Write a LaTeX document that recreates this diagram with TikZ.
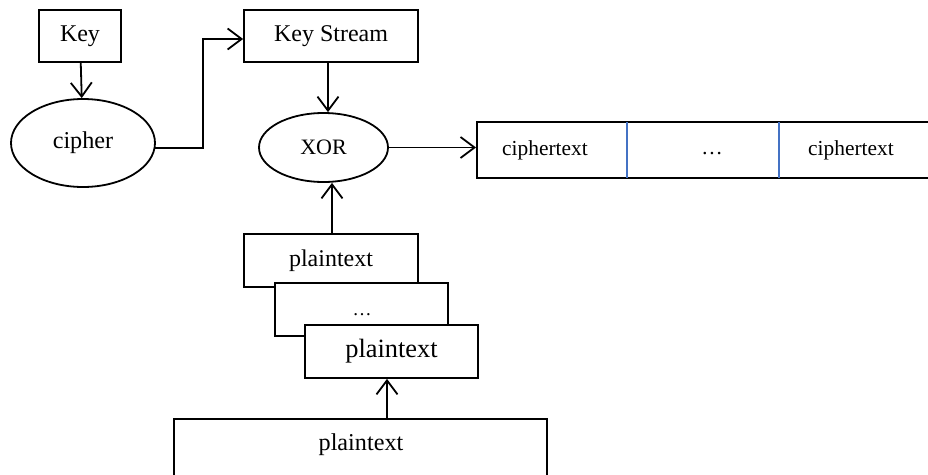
\documentclass[tikz,border=0pt]{standalone}
\usepackage{fontspec}
\setmainfont{Liberation Serif}
\usetikzlibrary{shapes.geometric,arrows.meta,calc}
\definecolor{divblue}{RGB}{68,114,196}
\tikzset{
  box/.style={draw, line width=1.8pt, fill=white, inner sep=0pt, rectangle},
  oval/.style={draw, line width=1.8pt, fill=white, inner sep=0pt, ellipse},
  arr/.style={line width=1.8pt, -{Straight Barb[length=14pt,width=21pt,line width=1.8pt]}},
  lbl/.style={inner sep=0pt}
}
\begin{document}
\begin{tikzpicture}[x=1pt,y=-1pt]
\useasboundingbox (0,0) rectangle (928,474);
\clip (0,0) rectangle (928,474);
% top row
\node[box, minimum width=82, minimum height=52, font=\fontsize{24}{26}\selectfont] (key) at (80,36) {Key};
\node[oval, minimum width=144, minimum height=88, font=\fontsize{24.2}{26}\selectfont] (cipher) at (83,143) {cipher};
\node[box, minimum width=174, minimum height=52, font=\fontsize{24}{26}\selectfont] (ks) at (331,36) {Key Stream};
\node[oval, minimum width=129, minimum height=69, font=\fontsize{22}{24}\selectfont] (xor) at (323.5,147.5) {XOR};
% ciphertext row
\node[box, minimum width=470, minimum height=56, anchor=west] (ct) at (476,150) {};
\node[lbl, font=\fontsize{21.4}{24}\selectfont] (ct1) at (545,150) {ciphertext};
\node[lbl, font=\fontsize{21.4}{24}\selectfont] (ctd) at (712,154) {\ldots};
\node[lbl, font=\fontsize{21.4}{24}\selectfont] (ct3) at (851,150) {ciphertext};
\draw[divblue, line width=1.4pt] (627,122) -- (627,178);
\draw[divblue, line width=1.4pt] (779,122) -- (779,178);
% plaintext stack
\node[box, minimum width=174, minimum height=53, font=\fontsize{24}{26}\selectfont] (p1) at (331,260.5) {plaintext};
\node[box, minimum width=173, minimum height=53] (p2) at (361.5,309.5) {};
\node[lbl, font=\fontsize{19}{20}\selectfont] (p2t) at (362,315) {\ldots};
\node[box, minimum width=173, minimum height=53, font=\fontsize{26.4}{28}\selectfont] (p3) at (391.5,351.5) {plaintext};
% bottom plaintext
\node[box, minimum width=373, minimum height=70] (pb) at (360.5,454) {};
\node[lbl, font=\fontsize{24.2}{26}\selectfont] (pbt) at (361,445) {plaintext};
% connector ends
\coordinate (ksout) at ($(ks.south)+(-3,0)$);
\coordinate (p1out) at ($(p1.north)+(1,0)$);
\coordinate (pbout) at ($(pb.north)+(26.5,0)$);
\coordinate (cout) at ($(cipher.east)+(-0.5,5)$);
\coordinate (ksin) at ($(ks.west)+(0,3)$);
% connectors
\draw[arr] (key) -- (cipher);
\draw[arr] (cout) -- ++(47.5,0) |- (ksin);
\draw[arr] (ksout) -- (ksout |- xor.north);
\draw[arr] (xor.east) -- (xor.east -| ct.west);
\draw[arr] (p1out) -- (p1out |- xor.south);
\draw[arr] (pbout) -- (pbout |- p3.south);
\end{tikzpicture}
\end{document}
